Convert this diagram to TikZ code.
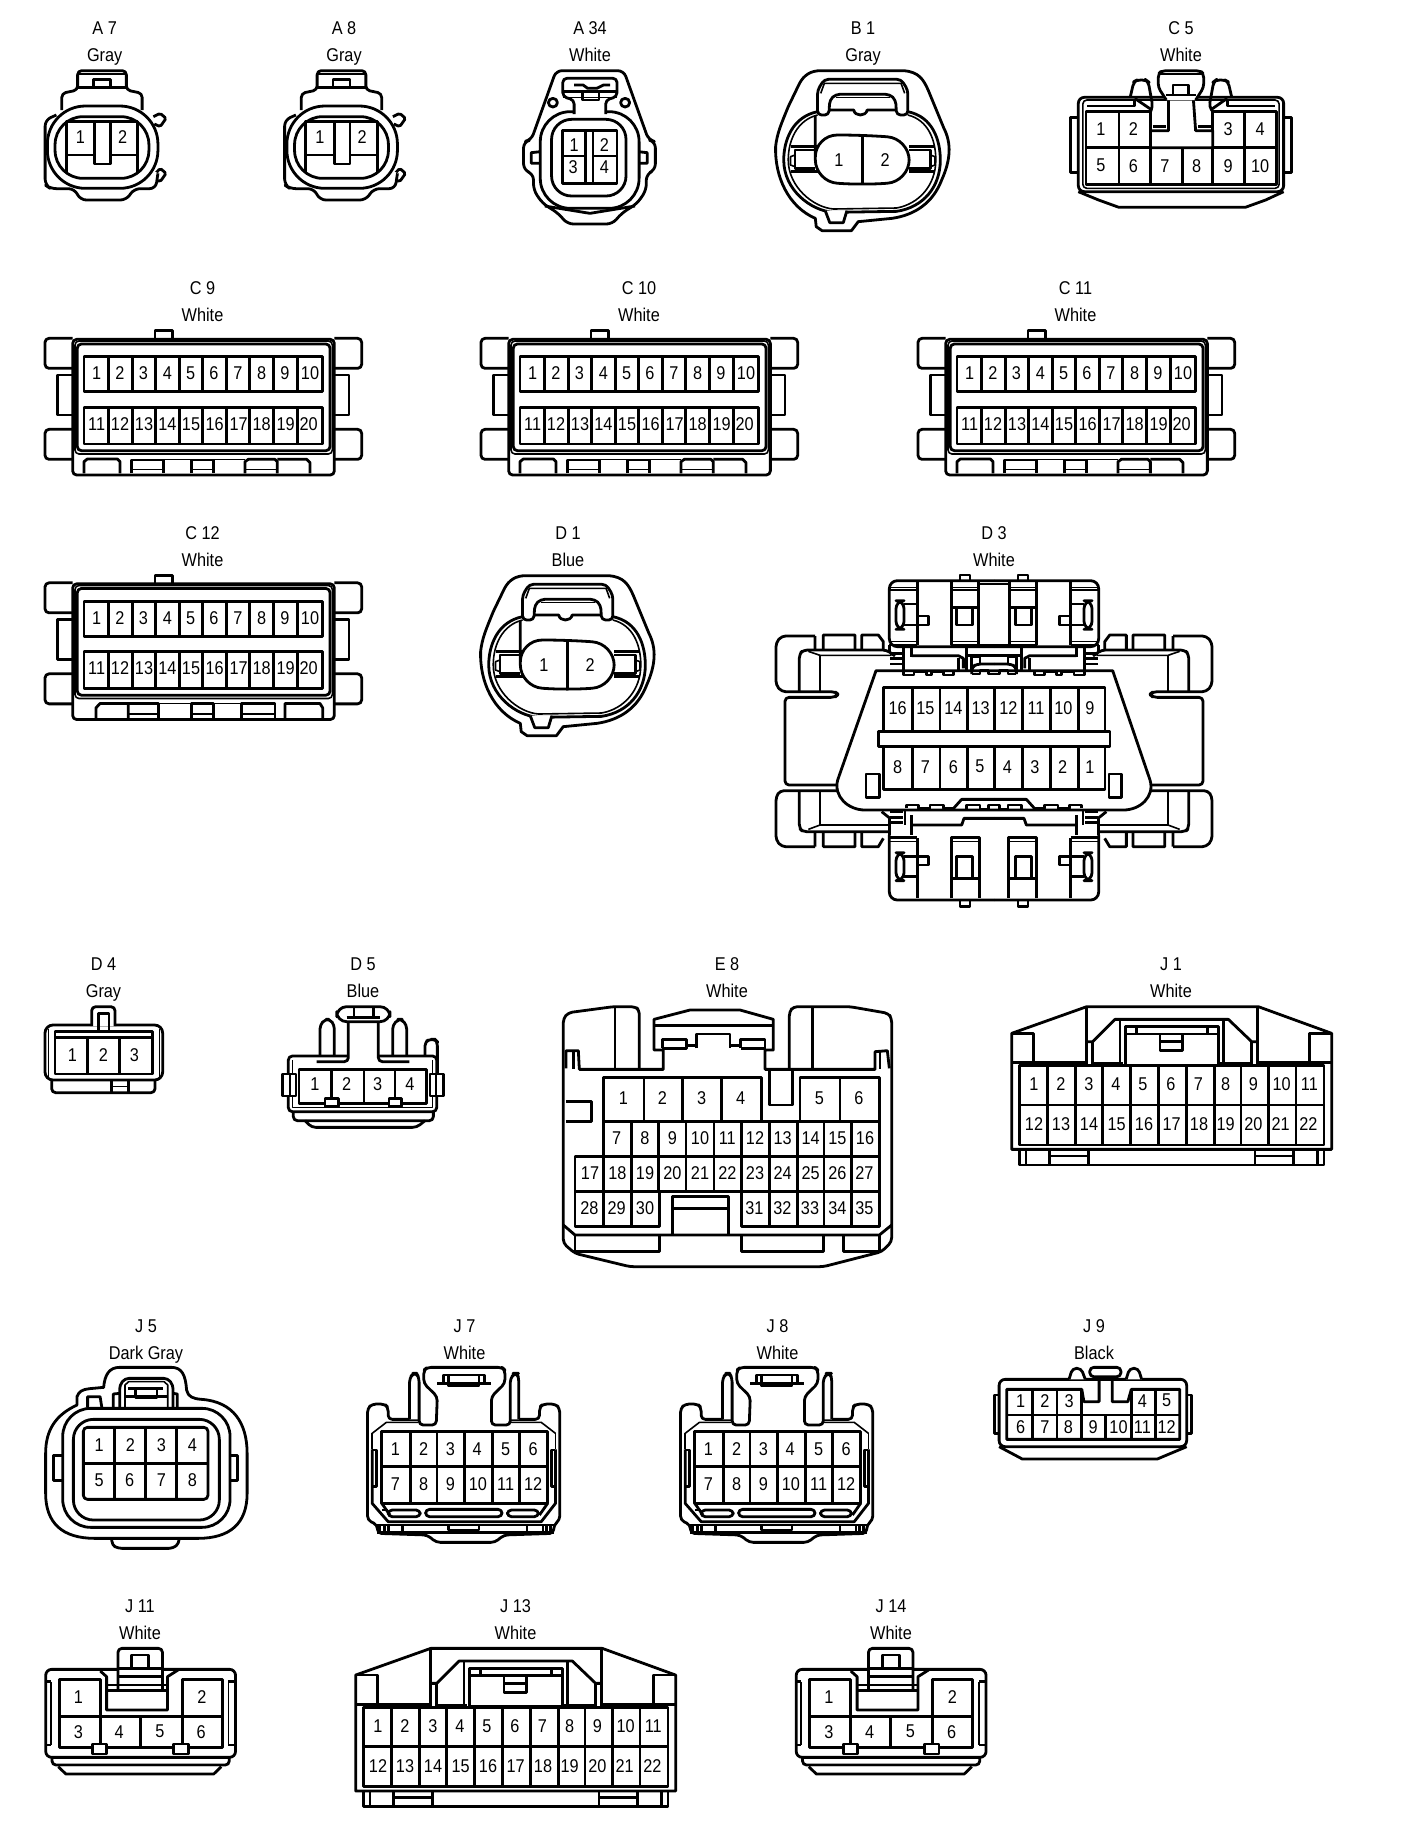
\documentclass[tikz,border=0pt]{standalone}
\usepackage{fontspec}
\setmainfont[FakeStretch=0.88]{Liberation Sans}
\tikzset{
  ln/.style={line width=1.4pt,line join=round},
  thn/.style={line width=0.8pt,line join=round},
  rc/.style={rounded corners=2pt},
  wh/.style={fill=white},
  pinlab/.style={inner sep=0pt,font=\fontsize{9.25}{11}\selectfont},
  lab/.style={inner sep=0pt,anchor=base,font=\fontsize{9.25}{11}\selectfont},
  zthree/.style={x=0.16667pt,y=-0.16667pt},
  zone/.style={x=0.22563pt,y=-0.16667pt},
  zeight/.style={x=0.178pt,y=-0.16667pt},
  znine/.style={x=0.17301pt,y=-0.16667pt},
  zten/.style={x=0.21pt,y=-0.16667pt},
}
\newcommand\pinrow[2]{\foreach \px/\pn in {#2} \node[pinlab,name=p\pn] at (\px,#1) {\pn};}
\newcommand\vlines[3]{\foreach \vx in {#3} \draw[ln] (\vx,#1)--(\vx,#2);}
\newcommand\conlabel[5]{%
  \node[lab] (n#1) at (#2,#3+6.6) {#4};
  \node[lab] (c#1) at (#2,#3+33.6) {#5};}

% ---------- A7 / A8 (zone coordinates)
\newcommand\shapeAseven{%
  \draw[ln,wh,rounded corners=0.8pt] (340,350)--(355,340)--(368,355)--(355,380)--(342,372);
  \draw[ln,wh,rounded corners=0.8pt] (345,520)--(355,505)--(368,520)--(355,545)--(342,538);
  \draw[ln,wh,rounded corners=3pt] (125,345)--(100,360)--(100,555)--(112,566)--(165,566)--(178,600)--(280,600)--(297,566)--(345,566)--(350,520);
  \draw[ln,wh,rounded corners=2pt] (137,330)--(137,280)--(172,270)--(172,212)--(280,212)--(280,270)--(315,280)--(315,330);
  \draw[thn] (172,222)--(280,222);
  \draw[ln] (172,262)--(280,262);
  \draw[ln] (207,262)--(207,238)--(245,238)--(245,262);
  \draw[ln,wh,rounded corners=19pt] (105,318) rectangle (350,565);
  \draw[ln,rounded corners=14pt] (122,350) rectangle (330,535);
  \draw[ln] (147,520)--(147,365)--(305,365)--(305,520);
  \draw[ln] (147,465)--(305,465);
  \draw[ln,wh] (210,365) rectangle (245,492);
}
% ---------- B1 / D1 (zone coordinates, origin at x=704)
\newcommand\shapeBone{%
  \draw[ln,wh] (262,212)--(445,212) .. controls (480,215) and (490,240) .. (500,270)--(535,385) .. controls (552,430) and (550,480) .. (530,540) .. controls (510,610) and (470,645) .. (420,655)--(345,665)--(330,692)--(265,692)--(252,680)--(250,655) .. controls (190,620) and (160,530) .. (162,440) .. controls (165,400) and (175,370) .. (190,320)--(215,250) .. controls (225,225) and (240,212) .. (262,212)--cycle;
  \draw[ln] (255,335) .. controls (200,350) and (180,420) .. (180,480) .. controls (180,570) and (240,632) .. (290,637)--(430,634) .. controls (490,622) and (527,560) .. (527,480) .. controls (527,420) and (510,350) .. (455,335);
  \draw[thn] (255,345) .. controls (210,360) and (190,420) .. (190,480) .. controls (190,560) and (245,622) .. (290,627)--(430,624) .. controls (480,612) and (517,555) .. (517,480) .. controls (517,420) and (500,360) .. (455,345);
  \draw[ln,wh] (272,632)--(282,668)--(312,668)--(320,632);
  \draw[ln,wh,rc] (255,345)--(255,270)--(270,238)--(440,238)--(455,270)--(455,345)--(430,345)--(428,300)--(415,283)--(295,283)--(282,300)--(280,345)--cycle;
  \draw[thn] (262,280)--(270,250)--(440,250)--(448,280);
  \draw[thn] (295,293)--(415,293);
  \draw[ln] (282,330)--(335,330) .. controls (338,350) and (362,350) .. (365,330)--(428,330);
  \draw[ln] (195,440)--(255,440) (195,515)--(255,515) (458,440)--(515,440) (458,515)--(515,515);
  \draw[ln] (250,450)--(205,450)--(205,505)--(250,505);
  \draw[ln] (458,450)--(505,450)--(505,505)--(458,505);
  \draw[thn] (205,465)--(195,470)--(195,495)--(205,500);
  \draw[thn] (505,465)--(515,470)--(515,495)--(505,500);
  \draw[ln,wh,rounded corners=11pt] (250,405)--(354,405)--(458,415)--(458,545)--(354,555)--(250,545)--(250,415)--cycle;
  \draw[ln] (355,408)--(355,553);
  \pinrow{480}{302/1,405/2}
}
% ---------- C9-C12 (zthree coordinates, relative to y=260)
\newcommand\shapeC[1]{%
  \draw[ln,rc] (218,235)--(135,235)--(135,325)--(218,325);
  \draw[ln,rc] (1003,235)--(1085,235)--(1085,325)--(1003,325);
  \draw[ln] (218,345)--(172,345)--(172,465)--(218,465);
  \draw[ln] (1003,345)--(1047,345)--(1047,465)--(1003,465);
  \draw[ln,rc] (218,508)--(135,508)--(135,598)--(218,598);
  \draw[ln,rc] (1003,508)--(1085,508)--(1085,598)--(1003,598);
  \draw[ln] (465,235)--(465,212)--(517,212)--(517,235);
  \draw[ln,wh,rc] (218,238) rectangle (1003,645);
  \draw[thn,rc] (225,243) rectangle (997,582);
  \draw[ln,rc] (232,252) rectangle (990,572);
  \draw[ln] (252,290) rectangle (968,395);
  \draw[ln] (252,442) rectangle (968,552);
  \vlines{290}{395}{325,397,467,538,608,680,748,820,892}
  \vlines{442}{552}{325,397,467,538,608,680,748,820,892}
  \pinrow{340}{290/1,360/2,430/3,502/4,572/5,642/6,714/7,785/8,855/9,930/10}
  \pinrow{492}{290/11,360/12,432/13,502/14,573/15,644/16,716/17,785/18,857/19,926/20}
  #1
}
\newcommand\bottomCnine{%
  \draw[ln] (252,640)--(252,605)--(262,597)--(352,597)--(360,605)--(360,640);
  \draw[ln] (395,640)--(395,600)--(490,600)--(490,640);
  \draw[thn] (395,628)--(490,628);
  \draw[thn] (490,598)--(575,598);
  \draw[ln] (575,640)--(575,600)--(640,600)--(640,640);
  \draw[thn] (575,628)--(640,628);
  \draw[thn] (640,598)--(735,598);
  \draw[ln] (735,640)--(735,605)--(745,598)--(825,598)--(832,605)--(832,640);
  \draw[thn] (735,628)--(832,628);
  \draw[ln] (832,598)--(920,598)--(930,608)--(930,640);
}
\newcommand\bottomCtwelve{%
  \draw[ln] (288,640)--(288,610)--(300,597)--(385,597)--(385,640);
  \draw[ln] (385,597)--(475,597)--(475,640);
  \draw[thn] (385,629)--(475,629);
  \draw[thn] (475,597)--(575,597);
  \draw[ln] (575,640)--(575,597)--(640,597)--(640,640);
  \draw[thn] (575,629)--(640,629);
  \draw[thn] (640,597)--(725,597);
  \draw[ln] (725,640)--(725,597)--(825,597)--(825,640);
  \draw[thn] (725,629)--(825,629);
  \draw[ln] (855,640)--(855,597)--(960,597)--(968,610)--(968,640);
}
% ---------- D3 half (zthree coordinates)
\newcommand\dwing{%
  \draw[ln,rc] (225,378)--(125,378)--(108,398)--(108,525)--(125,545)--(285,545)--(295,553)--(285,562)--(135,562)--(135,825)--(295,825);
  \draw[ln] (225,378)--(225,420) (250,420)--(250,375)--(345,375)--(345,420) (365,420)--(365,375)--(415,375)--(430,395)--(430,420);
  \draw[ln,rc] (178,545)--(178,432)--(190,420)--(440,420)--(465,438);
  \draw[thn] (205,424)--(240,436)--(455,436);
  \draw[ln] (240,438)--(240,545);
  \draw[ln,rc] (225,1010)--(125,1010)--(108,990)--(108,860)--(120,842)--(295,842);
  \draw[ln] (225,965)--(225,1010) (250,965)--(250,1010)--(345,1010)--(345,965) (365,965)--(365,1010)--(415,1010)--(430,985);
  \draw[ln,rc] (178,842)--(178,955)--(188,965)--(445,965);
  \draw[thn] (205,958)--(240,945)--(445,945);
  \draw[ln] (240,842)--(240,945);
}
\newcommand\dtop{%
  \draw[ln,wh,rounded corners=4pt] (762,212)--(448,212)--(448,410)--(762,410);
  \draw[ln] (532,215)--(532,405);
  \draw[ln] (448,240)--(532,240);
  \draw[thn] (448,232)--(532,232);
  \draw[ln] (448,405)--(532,405);
  \draw[thn] (448,395)--(532,395);
  \draw[ln,rounded corners=4pt] (468,272) rectangle (492,358);
  \draw[ln] (492,282)--(532,282) (492,345)--(532,345);
  \draw[ln] (535,318)--(565,318)--(565,345)--(535,345);
  \draw[ln] (635,215)--(635,405)--(715,405)--(715,215);
  \draw[ln] (635,240)--(715,240) (635,292)--(715,292);
  \draw[thn] (635,232)--(715,232) (635,395)--(715,395);
  \draw[ln] (650,292)--(650,345)--(697,345)--(697,292);
  \draw[ln] (660,212)--(660,195)--(690,195)--(690,212);
  \draw[thn] (715,222)--(762,222);
  \draw[ln] (448,405)--(448,425) (515,405)--(515,440);
  \draw[ln] (450,430)--(490,430) (450,445)--(490,445) (450,462)--(490,462);
  \draw[ln] (490,410)--(490,480);
  \draw[ln] (515,437)--(655,437)--(670,445)--(670,475);
  \draw[ln] (655,445)--(655,480);
  \draw[ln] (680,405)--(680,480);
  \draw[ln] (680,405)--(762,405);
  \draw[ln] (680,437)--(762,437);
  \draw[ln] (695,490)--(695,440)--(720,440)--(720,460);
}
\newcommand\dteethtop{%
  \draw[ln] (490,482)--(490,495)--(522,495)--(522,484)--(560,484)--(560,495)--(575,495)--(575,484)--(610,484)--(610,495)--(640,495)--(640,482);
  \draw[ln,rc] (695,492)--(695,472)--(710,462)--(762,462);
  \draw[ln] (695,492)--(720,492)--(720,482)--(745,482)--(745,492)--(762,492);
}
\newcommand\dbottom{%
  \draw[ln,wh,rounded corners=4pt] (448,975)--(448,1170)--(762,1170);
  \draw[ln] (450,983)--(532,983);
  \draw[thn] (450,995)--(532,995);
  \draw[ln] (532,985)--(532,1165);
  \draw[ln,rounded corners=4pt] (468,1028) rectangle (492,1112);
  \draw[ln] (492,1040)--(532,1040) (492,1100)--(532,1100);
  \draw[ln] (535,1040)--(565,1040)--(565,1065)--(535,1065);
  \draw[ln] (635,1165)--(635,983)--(718,983)--(718,1165);
  \draw[thn] (635,995)--(718,995);
  \draw[ln] (650,1105)--(650,1040)--(697,1040)--(697,1105);
  \draw[ln] (635,1105)--(718,1105);
  \draw[ln] (660,1170)--(660,1190)--(690,1190)--(690,1170);
  \draw[ln] (448,925)--(448,975) (515,915)--(515,975);
  \draw[ln] (515,945)--(665,945)--(672,925)--(762,925);
  \draw[ln] (450,905)--(490,905) (450,922)--(490,922) (450,938)--(490,938);
  \draw[ln] (495,900)--(495,945);
  \draw[ln] (425,905)--(450,925);
}
\newcommand\dteethbot{%
  \draw[ln] (500,895)--(500,885)--(535,885)--(535,895)--(570,895)--(570,885)--(610,885)--(610,895)--(640,895);
  \draw[ln] (638,898)--(665,868)--(762,868);
  \draw[ln] (680,897)--(680,885)--(720,885)--(720,897)--(745,897)--(745,885)--(762,885);
}
% ---------- J1 / J13 (zthree coordinates, origin 960,930)
\newcommand\shapeJone{%
  \draw[ln,wh] (155,658)--(155,310)--(380,230)--(895,230)--(1115,310)--(1115,658)--cycle;
  \draw[ln] (155,398)--(380,398) (893,398)--(1115,398);
  \draw[ln] (380,232)--(380,405) (893,232)--(893,405);
  \draw[ln] (398,335)--(398,405) (875,335)--(875,405);
  \draw[ln] (380,335)--(398,335)--(465,268)--(805,268)--(875,335)--(893,335);
  \draw[ln] (480,268)--(480,400) (790,268)--(790,400);
  \draw[ln] (398,400)--(490,400) (780,400)--(875,400);
  \draw[ln,wh] (497,405)--(497,290)--(775,290)--(775,405)--cycle;
  \draw[ln] (497,312)--(775,312) (530,290)--(530,312) (742,290)--(742,312);
  \draw[ln] (600,312)--(600,362)--(668,362)--(668,312) (600,335)--(668,335);
  \draw[ln] (155,310)--(220,310)--(220,398) (1115,310)--(1048,310)--(1048,398);
  \draw[ln] (178,407) rectangle (1092,645);
  \draw[ln] (178,525)--(1092,525);
  \vlines{407}{645}{263,347,428,512,595,680,763,843,925,1008}
  \draw[ln] (178,658)--(178,705)--(1092,705)--(1092,658);
  \draw[ln] (198,658)--(198,705) (1072,658)--(1072,705);
  \draw[ln] (268,658)--(268,705) (385,658)--(385,705) (268,678)--(385,678);
  \draw[ln] (885,658)--(885,705) (1000,658)--(1000,705) (885,678)--(1000,678);
  \pinrow{463}{222/1,303/2,387/3,468/4,549/5,633/6,715/7,797/8,880/9,965/10,1048/11}
  \pinrow{582}{222/12,303/13,387/14,470/15,552/16,635/17,717/18,797/19,880/20,962/21,1045/22}
}
% ---------- J7 / J8 (zeight coordinates, origin 20,1290)
\newcommand\shapeJseven{%
  \draw[ln,wh,rc] (1115,388)--(1030,388)--(1030,352)--(1020,342)--(985,342)--(972,355)--(972,690)--(1000,705)--(1000,730)--(1140,735)--(1165,757)--(1330,757)--(1355,735)--(1495,730)--(1495,705)--(1512,690)--(1512,355)--(1500,342)--(1465,342)--(1455,352)--(1455,388)--(1375,388);
  \draw[ln,wh,rc] (1090,388)--(1090,265)--(1100,250)--(1110,250)--(1117,265)--(1117,405)--(1165,405)--(1168,320)--(1130,280)--(1130,240)--(1140,232)--(1350,232)--(1358,240)--(1358,280)--(1320,320)--(1320,405)--(1373,405)--(1373,265)--(1385,250)--(1392,250)--(1397,265)--(1397,388);
  \draw[ln] (1168,280)--(1320,280);
  \draw[ln] (1185,280)--(1185,255)--(1300,255)--(1300,280);
  \draw[ln] (1200,255)--(1200,288)--(1285,288)--(1285,255);
  \draw[thn] (985,430)--(1025,397)--(1115,397) (1500,430)--(1460,397)--(1375,397);
  \draw[ln] (985,478)--(985,640)--(1030,695)--(1460,695)--(1500,640)--(1500,478);
  \draw[thn] (985,430)--(985,478) (1500,430)--(1500,478);
  \draw[ln] (985,480)--(997,480)--(997,590)--(985,590) (1500,480)--(1488,480)--(1488,590)--(1500,590);
  \draw[ln] (1012,425) rectangle (1478,640);
  \draw[ln] (1012,530)--(1478,530);
  \vlines{425}{640}{1092,1167,1245,1323,1400}
  \draw[ln] (1012,640)--(1035,675) (1478,640)--(1455,675);
  \draw[ln] (1012,660)--(1030,660);
  \draw[ln,rounded corners=2pt] (1030,660) rectangle (1120,680);
  \draw[ln,rounded corners=2pt] (1135,658) rectangle (1350,680);
  \draw[ln,rounded corners=2pt] (1365,660) rectangle (1452,680);
  \draw[ln] (1000,705)--(1495,705) (1000,728)--(1495,728);
  \vlines{705}{728}{1005,1020,1030,1070,1420,1465,1475,1485}
  \draw[ln] (1200,708)--(1200,720)--(1285,720)--(1285,708);
  \pinrow{478}{1050/1,1130/2,1205/3,1280/4,1360/5,1437/6}
  \pinrow{583}{1050/7,1130/8,1205/9,1282/10,1360/11,1437/12}
}
% ---------- J11 / J14 (zten coordinates, origin 20,1570)
\newcommand\shapeJeleven{%
  \draw[ln,wh,rc] (75,562)--(75,585)--(497,585)--(497,562);
  \draw[ln,wh] (90,590)--(108,612)--(460,612)--(478,590);
  \draw[ln,wh,rounded corners=3pt] (60,298) rectangle (512,562);
  \draw[thn] (72,335)--(72,525) (495,335)--(495,525);
  \draw[ln] (62,335)--(72,335) (62,525)--(72,525) (510,335)--(495,335) (510,525)--(495,525);
  \draw[ln] (92,328) rectangle (190,440);
  \draw[ln] (385,328) rectangle (480,440);
  \draw[ln] (92,440) rectangle (480,532);
  \vlines{440}{532}{190,285,385}
  \draw[ln] (190,303)--(205,320)--(205,420)--(350,420)--(350,360)--(350,320)--(375,300);
  \draw[ln,wh,rounded corners=2pt] (232,362)--(232,235)--(338,235)--(338,362);
  \draw[ln] (265,295)--(265,255)--(305,255)--(305,295);
  \draw[ln] (232,295)--(338,295) (232,320)--(338,320);
  \draw[ln] (205,345)--(350,345) (205,362)--(350,362);
  \draw[ln,wh] (172,522) rectangle (205,552);
  \draw[ln,wh] (365,522) rectangle (400,552);
  \pinrow{382}{138/1,432/2}
  \pinrow{485}{138/3,235/4,332/5,430/6}
}

\begin{document}
\begin{tikzpicture}[x=0.5pt,y=-0.5pt]
\fill[white] (0,0) rectangle (1408,1832);
\useasboundingbox (0,0) rectangle (1408,1832);

% ----- labels -----
\conlabel{Aseven}{104.7}{28}{A 7}{Gray}
\conlabel{Aeight}{344}{28}{A 8}{Gray}
\conlabel{Athirtyfour}{590}{28}{A 34}{White}
\conlabel{Bone}{863}{28}{B 1}{Gray}
\conlabel{Cfive}{1181}{28}{C 5}{White}
\conlabel{Cnine}{202.5}{288}{C 9}{White}
\conlabel{Cten}{639}{288}{C 10}{White}
\conlabel{Celeven}{1075.5}{288}{C 11}{White}
\conlabel{Ctwelve}{202.5}{533}{C 12}{White}
\conlabel{Done}{568}{533}{D 1}{Blue}
\conlabel{Dthree}{994}{533}{D 3}{White}
\conlabel{Dfour}{103.5}{964}{D 4}{Gray}
\conlabel{Dfive}{363}{964}{D 5}{Blue}
\conlabel{Eeight}{727}{964}{E 8}{White}
\conlabel{Jone}{1171}{964}{J 1}{White}
\conlabel{Jfive}{146}{1326}{J 5}{Dark Gray}
\conlabel{Jseven}{464.5}{1326}{J 7}{White}
\conlabel{Jeight}{777.5}{1326}{J 8}{White}
\conlabel{Jnine}{1094}{1326}{J 9}{Black}
\conlabel{Jeleven}{140}{1606}{J 11}{White}
\conlabel{Jthirteen}{515.5}{1606}{J 13}{White}
\conlabel{Jfourteen}{891}{1606}{J 14}{White}

% ----- A7 -----
\begin{scope}[shift={(0,0)},zone,name prefix=Aseven-]
  \shapeAseven
  \pinrow{412}{178/1,272/2}
\end{scope}
% ----- A8 -----
\begin{scope}[shift={(239.5,0)},zone,name prefix=Aeight-]
  \shapeAseven
  \pinrow{412}{178/1,272/2}
\end{scope}
% ----- A34 -----
\begin{scope}[shift={(-3.5,0)},zone,name prefix=Athree-]
  \draw[ln,wh,rounded corners=3pt] (1240,212)--(1390,212)--(1445,420)--(1460,425)--(1460,510)--(1440,522)--(1440,570)--(1420,610)--(1385,640)--(1365,672)--(1265,672)--(1245,640)--(1210,610)--(1190,570)--(1190,522)--(1168,510)--(1168,425)--(1185,420)--cycle;
  \draw[ln] (1205,455)--(1185,458)--(1185,490)--(1205,490);
  \draw[ln] (1422,455)--(1442,458)--(1442,490)--(1422,490);
  \draw[ln,wh,rounded corners=15pt] (1205,335) rectangle (1424,625);
  \draw[ln] (1215,618)--(1315,640)--(1415,618);
  \draw[ln,rounded corners=10pt] (1230,358) rectangle (1395,588);
  \draw[ln] (1255,392) rectangle (1375,550);
  \draw[ln] (1305,392)--(1305,550) (1322,392)--(1322,550);
  \draw[ln] (1255,468)--(1305,468) (1322,468)--(1375,468);
  \draw[ln,wh,rounded corners=2pt] (1280,342)--(1280,300)--(1255,290)--(1255,235)--(1375,235)--(1375,290)--(1350,300)--(1350,342);
  \draw[ln] (1280,255)--(1300,255)--(1310,265)--(1330,265)--(1345,255)--(1360,255);
  \draw[ln] (1255,275)--(1375,275);
  \draw[thn] (1255,292)--(1375,292);
  \draw[ln] (1298,280)--(1298,300)--(1335,300)--(1335,280);
  \draw[ln] (1233,308) ellipse [x radius=10,y radius=13];
  \draw[ln] (1393,308) ellipse [x radius=10,y radius=13];
  \pinrow{435}{1280/1,1347/2}
  \pinrow{502}{1278/3,1347/4}
\end{scope}
% ----- B1 -----
\begin{scope}[shift={(702.5,0)},zone,name prefix=Bone-]
  \shapeBone
\end{scope}
% ----- D1 -----
\begin{scope}[shift={(407.5,505)},zone,name prefix=Done-]
  \shapeBone
\end{scope}
% ----- C5 -----
\begin{scope}[shift={(701.5,0)},zone,name prefix=Cfive-]
  \draw[ln,wh] (835,352)--(818,352)--(818,518)--(835,518);
  \draw[ln,wh] (1290,352)--(1308,352)--(1308,518)--(1290,518);
  \draw[ln,wh] (835,575)--(880,600)--(925,622)--(1205,622)--(1250,600)--(1290,575);
  \draw[ln,wh,rounded corners=3pt] (835,292) rectangle (1290,575);
  \draw[thn,rounded corners=2pt] (845,300) rectangle (1280,565);
  \draw[ln] (855,318)--(960,318)--(960,298);
  \draw[ln] (1165,298)--(1165,318)--(1270,318);
  \draw[ln] (852,335) rectangle (995,443);
  \draw[ln] (1133,335) rectangle (1275,443);
  \draw[ln] (852,443) rectangle (1275,553);
  \draw[ln] (925,335)--(925,553) (1203,335)--(1203,553);
  \vlines{443}{553}{995,1065,1133}
  \draw[ln,wh] (995,392)--(1035,392)--(1035,298)--(1090,298)--(1095,392)--(1133,392)--(1133,443)--(995,443)--cycle;
  \draw[ln] (1000,380)--(1030,380) (1100,380)--(1130,380);
  \draw[ln,wh,rc] (1030,300)--(1012,262)--(1012,222)--(1020,212)--(1105,212)--(1113,222)--(1113,262)--(1095,300);
  \draw[thn] (1012,222)--(1113,222);
  \draw[ln] (1045,285)--(1045,255)--(1080,255)--(1080,285) (1030,285)--(1095,285);
  \draw[ln,rc] (950,292)--(958,245)--(965,240)--(985,240)--(990,245)--(1000,320)--(995,335);
  \draw[ln] (960,295)--(998,330);
  \draw[ln,rc] (1175,292)--(1167,245)--(1160,240)--(1140,240)--(1135,245)--(1125,320)--(1133,335);
  \draw[ln] (1165,295)--(1128,330);
  \pinrow{387}{885/1,957/2,1167/3,1238/4}
  \pinrow{497}{885/5,957/6,1027/7,1097/8,1167/9,1238/10}
\end{scope}
% ----- C9, C10, C11, C12 -----
\begin{scope}[shift={(0,260)},zthree,name prefix=Cnine-]
  \shapeC{\bottomCnine}
\end{scope}
\begin{scope}[shift={(436,260)},zthree,name prefix=Cten-]
  \shapeC{\bottomCnine}
\end{scope}
\begin{scope}[shift={(873,260)},zthree,name prefix=Celeven-]
  \shapeC{\bottomCnine}
\end{scope}
\begin{scope}[shift={(0,504.5)},zthree,name prefix=Ctwelve-]
  \shapeC{\bottomCtwelve}
\end{scope}
% ----- D3 -----
\begin{scope}[shift={(740,510)},zthree,name prefix=Dthree-]
  \dwing
  \begin{scope}[shift={(1524,0)},xscale=-1]\dwing\end{scope}
  \dtop
  \begin{scope}[shift={(1524,0)},xscale=-1]\dtop\end{scope}
  \dbottom
  \begin{scope}[shift={(1524,0)},xscale=-1]\dbottom\end{scope}
  \draw[ln,wh] (408,482)--(1118,482)--(1230,810) .. controls (1245,860) and (1200,900) .. (1150,900)--(375,900) .. controls (325,900) and (280,860) .. (293,810)--cycle;
  \dteethtop
  \begin{scope}[shift={(1524,0)},xscale=-1]\dteethtop\dteethbot\end{scope}
  \dteethbot
  \draw[ln] (430,532) rectangle (1095,838);
  \vlines{532}{838}{517,600,682,764,848,932,1016}
  \draw[ln,wh] (415,665) rectangle (1110,710);
  \draw[ln] (378,792) rectangle (418,862);
  \draw[ln] (1107,792) rectangle (1145,862);
  \pinrow{595}{473/16,556/15,640/14,722/13,805/12,888/11,970/10,1050/9}
  \pinrow{770}{473/8,556/7,640/6,720/5,802/4,885/3,968/2,1050/1}
\end{scope}
% ----- D4 -----
\begin{scope}[shift={(0,930)},zthree,name prefix=Dfour-]
  \draw[ln,wh,rc] (155,450)--(155,488)--(465,488)--(465,450);
  \draw[ln] (335,450)--(335,488) (385,450)--(385,488);
  \draw[thn] (335,470)--(385,470);
  \draw[ln,wh,rounded corners=4pt] (135,285) rectangle (488,450);
  \draw[ln,wh,rounded corners=2pt] (275,288)--(275,230)--(345,230)--(345,288);
  \draw[ln] (295,300)--(295,250)--(327,250)--(327,300);
  \draw[thn] (146,298)--(146,440) (478,298)--(478,440);
  \draw[ln] (165,305) rectangle (458,432);
  \draw[ln] (165,322)--(458,322);
  \vlines{322}{432}{262,358}
  \pinrow{375}{217/1,310/2,403/3}
\end{scope}
% ----- D5 -----
\begin{scope}[shift={(0,930)},zthree,name prefix=Dfive-]
  \draw[ln,wh,rc] (915,572)--(935,592)--(1250,592)--(1275,572);
  \draw[ln,rc] (880,545)--(880,572)--(1300,572)--(1300,545);
  \draw[ln,rc] (1275,378)--(1275,335)--(1290,328)--(1305,328)--(1312,335)--(1312,430);
  \draw[ln,wh,rc] (1310,545)--(1310,378)--(865,378)--(865,545)--cycle;
  \draw[thn] (877,390)--(877,532)--(1298,532)--(1298,390);
  \draw[ln,wh] (848,432) rectangle (888,498);
  \draw[ln,wh] (1290,432) rectangle (1330,498);
  \draw[ln] (870,432)--(870,498) (1308,432)--(1308,498);
  \draw[ln,wh,rc] (950,395)--(1045,395)--(1045,265)--(1135,265)--(1135,395)--(1228,395);
  \draw[ln,rc] (960,378)--(960,285)--(975,268)--(990,268)--(1003,285)--(1003,378);
  \draw[ln,rc] (1178,378)--(1178,285)--(1195,268)--(1205,268)--(1220,285)--(1220,378);
  \draw[ln,wh,rounded corners=5pt] (1010,230) rectangle (1170,275);
  \draw[ln] (1062,230)--(1062,265) (1120,230)--(1120,265);
  \draw[ln] (1040,262)--(1140,262);
  \draw[ln] (897,418) rectangle (1280,520);
  \vlines{418}{520}{995,1092,1185}
  \draw[ln,wh] (975,505) rectangle (1015,530);
  \draw[ln,wh] (1167,505) rectangle (1205,530);
  \pinrow{463}{945/1,1040/2,1133/3,1230/4}
\end{scope}
% ----- E8 -----
\begin{scope}[shift={(530,930)},zthree,name prefix=Eeight-]
  \draw[ln,wh,rc] (328,415)--(328,240)--(315,230)--(250,230)--(115,248)--(100,265)--(100,940)--(135,970)--(300,1010)--(880,1010)--(1055,965)--(1085,935)--(1085,265)--(1075,250)--(960,230)--(790,230)--(778,245)--(778,415);
  \draw[ln] (108,415)--(108,362)--(145,362)--(148,418)--(400,418)--(400,360)--(372,360)--(372,268)--(480,240)--(630,240)--(730,268)--(730,360)--(705,360)--(705,418)--(1035,418)--(1035,365)--(1072,362)--(1078,415);
  \draw[ln] (130,362)--(130,418) (1050,365)--(1050,418);
  \draw[ln] (255,235)--(255,415) (848,235)--(848,415);
  \draw[ln] (372,287)--(730,287);
  \draw[ln] (397,355)--(397,328)--(470,328)--(470,355)--(397,355);
  \draw[ln] (500,355)--(500,312)--(600,312)--(600,355);
  \draw[ln] (632,355)--(632,328)--(705,328)--(705,355)--(632,355);
  \draw[ln] (470,347)--(500,347) (600,347)--(632,347);
  \draw[ln] (718,422)--(718,525)--(788,525)--(788,422);
  \draw[ln] (220,575)--(220,442)--(695,442)--(695,575);
  \vlines{442}{575}{342,458,575}
  \draw[ln] (810,575)--(810,442)--(1048,442)--(1048,575);
  \draw[ln] (930,442)--(930,575);
  \draw[ln] (220,575) rectangle (1048,680);
  \vlines{575}{680}{305,385,468,552,635,718,802,882,965}
  \draw[ln] (135,680) rectangle (1048,785);
  \vlines{680}{785}{220,305,385,468,552,635,718,802,882,965}
  \draw[ln] (135,785) rectangle (388,890);
  \vlines{785}{890}{220,305}
  \draw[ln] (635,785) rectangle (1048,890);
  \vlines{785}{890}{718,802,882,965}
  \draw[ln] (428,912)--(428,800)--(595,800)--(595,912) (428,835)--(595,835);
  \draw[ln] (108,515)--(185,515)--(185,575)--(108,575);
  \draw[ln] (100,885)--(135,915)--(1048,915)--(1085,885);
  \draw[ln] (135,915)--(135,965)--(388,965)--(388,915);
  \draw[ln] (635,915)--(635,965)--(880,965)--(880,915);
  \draw[ln] (940,915)--(940,965)--(1048,965)--(1048,915);
  \pinrow{505}{280/1,397/2,515/3,632/4,868/5,987/6}
  \pinrow{625}{260/7,345/8,427/9,510/10,592/11,675/12,758/13,842/14,922/15,1005/16}
  \pinrow{730}{180/17,262/18,345/19,427/20,510/21,592/22,675/23,758/24,842/25,922/26,1003/27}
  \pinrow{835}{178/28,260/29,345/30,673/31,757/32,840/33,922/34,1003/35}
\end{scope}
% ----- J1 -----
\begin{scope}[shift={(960,930)},zthree,name prefix=Jone-]
  \shapeJone
\end{scope}
% ----- J13 -----
\begin{scope}[shift={(304,1571.7)},zthree,name prefix=Jthirteen-]
  \shapeJone
\end{scope}
% ----- J5 -----
\begin{scope}[shift={(20,1290)},zeight,name prefix=Jfive-]
  \draw[ln,wh,rc] (258,745)--(258,765)--(275,775)--(430,775)--(447,760)--(447,745);
  \draw[ln,wh] (160,345)--(160,320) .. controls (165,305) and (175,298) .. (195,296)--(235,292) .. controls (238,255) and (250,232) .. (280,232)--(425,232) .. controls (455,232) and (465,255) .. (468,300) .. controls (472,320) and (485,326) .. (510,328) .. controls (600,335) and (638,400) .. (638,490)--(638,610) .. controls (638,700) and (590,745) .. (500,745)--(210,745) .. controls (120,745) and (72,700) .. (72,610)--(72,490) .. controls (72,420) and (100,375) .. (160,345)--cycle;
  \draw[ln,rounded corners=14pt] (120,355) rectangle (590,712);
  \draw[ln,wh,rounded corners=10pt] (150,388) rectangle (560,690);
  \draw[ln] (120,497)--(95,497)--(95,572)--(120,572);
  \draw[ln] (590,497)--(612,497)--(612,572)--(590,572);
  \draw[ln] (190,353)--(190,320)--(225,320)--(230,353);
  \draw[ln] (262,353)--(262,312)--(280,310) (430,310)--(442,312)--(442,353);
  \draw[ln,rc] (280,355)--(280,285)--(295,265)--(415,265)--(430,285)--(430,355);
  \draw[thn] (295,355)--(295,285)--(305,275)--(405,275)--(415,285)--(415,355);
  \draw[ln] (303,295)--(403,295) (325,300)--(325,322)--(385,322)--(385,300) (295,320)--(415,320);
  \draw[ln,rc] (178,412) rectangle (528,628);
  \draw[ln] (178,520)--(528,520);
  \vlines{412}{628}{265,353,440}
  \pinrow{465}{222/1,310/2,397/3,484/4}
  \pinrow{570}{222/5,308/6,397/7,484/8}
\end{scope}
% ----- J7, J8 -----
\begin{scope}[shift={(21.5,1290)},zeight,name prefix=Jseven-]
  \shapeJseven
\end{scope}
\begin{scope}[shift={(334.5,1290)},zeight,name prefix=Jeight-]
  \shapeJseven
\end{scope}
% ----- J9 -----
\begin{scope}[shift={(659,1290)},znine,name prefix=Jnine-]
  \draw[ln] (983,315)--(970,315)--(970,430)--(983,430);
  \draw[ln] (1525,315)--(1540,315)--(1540,430)--(1525,430);
  \draw[ln,wh] (983,470)--(1050,507)--(1440,507)--(1525,470);
  \draw[ln,wh,rounded corners=3pt] (983,268) rectangle (1525,470);
  \draw[ln,wh,rc] (1185,268)--(1195,235)--(1220,235)--(1232,268);
  \draw[ln,wh,rc] (1350,268)--(1360,235)--(1385,235)--(1395,268);
  \draw[ln] (1005,298)--(1222,298)--(1228,335)--(1272,335)--(1272,262)--(1310,262)--(1310,335)--(1355,335)--(1365,298)--(1505,298)--(1505,448)--(1005,448)--cycle;
  \draw[ln,wh,rc] (1245,260)--(1245,232)--(1335,232)--(1335,260)--cycle;
  \draw[ln] (1005,375)--(1505,375);
  \vlines{298}{448}{1080,1150,1435}
  \vlines{298}{448}{1222,1365}
  \vlines{375}{448}{1290}
  \pinrow{332}{1045/1,1115/2,1185/3,1397/4,1467/5}
  \pinrow{410}{1045/6,1115/7,1183/8,1255/9,1328/10,1397/11,1467/12}
\end{scope}
% ----- J11, J14 -----
\begin{scope}[shift={(20.5,1570)},zten,name prefix=Jeleven-]
  \shapeJeleven
\end{scope}
\begin{scope}[shift={(771,1570)},zten,name prefix=Jfourteen-]
  \shapeJeleven
\end{scope}
\end{tikzpicture}
\end{document}
